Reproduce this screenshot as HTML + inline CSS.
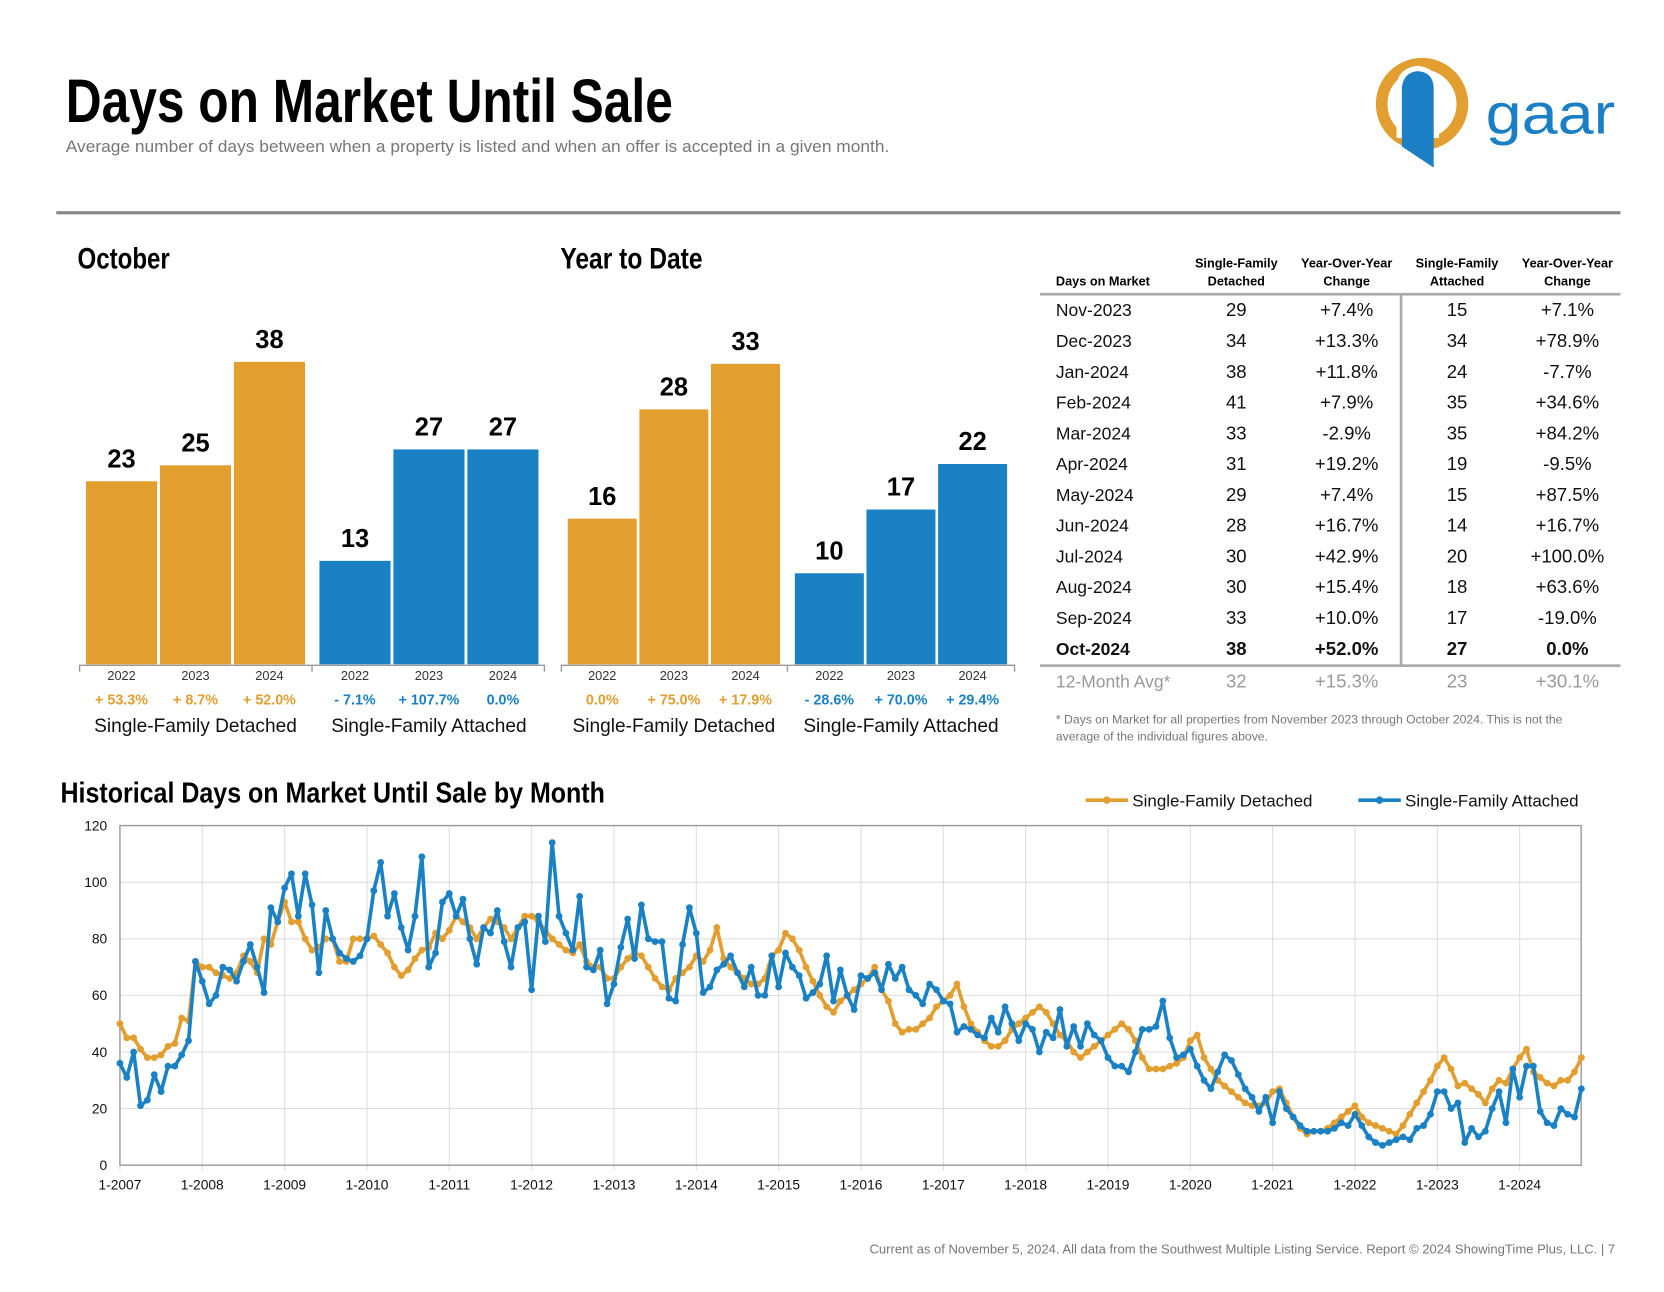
<!DOCTYPE html>
<html><head><meta charset="utf-8"><style>
html,body{margin:0;padding:0;background:#fff;width:1664px;height:1292px;overflow:hidden}
svg{display:block}
text{font-family:"Liberation Sans",sans-serif}
</style></head><body>
<svg id="page" width="1664" height="1292" viewBox="0 0 1568 1217.5" xmlns="http://www.w3.org/2000/svg">
<rect width="1568" height="1217.5" fill="#fff"/>
<text x="62" y="115" font-size="58" font-weight="bold" textLength="572" lengthAdjust="spacingAndGlyphs">Days on Market Until Sale</text>
<text x="62" y="143" font-size="15.5" fill="#777" textLength="776" lengthAdjust="spacingAndGlyphs">Average number of days between when a property is listed and when an offer is accepted in a given month.</text>
<g>
<circle cx="1340" cy="98" r="38" fill="none" stroke="#e29e2f" stroke-width="11"/>
<path d="M1316 80 Q1318 64 1336 62 Q1354 64 1356 80 L1356 130 L1316 130 Z" fill="#fff"/>
<path d="M1321 82 Q1323 68 1336 67 Q1350 68 1351 82 L1351 158 L1321 138 Z" fill="#1a7fc4"/>
<text x="1400" y="126" font-size="54" fill="#1a7fc4" font-family="'DejaVu Sans',sans-serif" textLength="122" lengthAdjust="spacingAndGlyphs">gaar</text>
</g>
<rect x="53" y="199" width="1474" height="3" fill="#888"/>
<text x="73" y="253" font-size="28" font-weight="bold" textLength="87" lengthAdjust="spacingAndGlyphs">October</text>
<text x="528" y="253" font-size="28" font-weight="bold" textLength="134" lengthAdjust="spacingAndGlyphs">Year to Date</text>
<g id="barcharts"></g>
<g id="table"></g>
<text x="57" y="756" font-size="27" font-weight="bold" textLength="513" lengthAdjust="spacingAndGlyphs">Historical Days on Market Until Sale by Month</text>
<g id="linechart"></g>
<text x="1522" y="1181" font-size="12.3" fill="#777" text-anchor="end">Current as of November 5, 2024. All data from the Southwest Multiple Listing Service. Report © 2024 ShowingTime Plus, LLC.  |  7</text>
</svg>
<script>
// ---- bar chart data ----
const barYears = ["2022","2023","2024"];
const octDetached = [23,25,38];
const octAttached = [13,27,27];
const octDetPct = ["+ 53.3%","+ 8.7%","+ 52.0%"];
const octAttPct = ["- 7.1%","+ 107.7%","0.0%"];
const ytdDetached = [16,28,33];
const ytdAttached = [10,17,22];
const ytdDetPct = ["0.0%","+ 75.0%","+ 17.9%"];
const ytdAttPct = ["- 28.6%","+ 70.0%","+ 29.4%"];
// ---- table data ----
const tblMonths = ["Nov-2023","Dec-2023","Jan-2024","Feb-2024","Mar-2024","Apr-2024","May-2024","Jun-2024","Jul-2024","Aug-2024","Sep-2024","Oct-2024"];
const tblDet = [29,34,38,41,33,31,29,28,30,30,33,38];
const tblDetChg = ["+7.4%","+13.3%","+11.8%","+7.9%","-2.9%","+19.2%","+7.4%","+16.7%","+42.9%","+15.4%","+10.0%","+52.0%"];
const tblAtt = [15,34,24,35,35,19,15,14,20,18,17,27];
const tblAttChg = ["+7.1%","+78.9%","-7.7%","+34.6%","+84.2%","-9.5%","+87.5%","+16.7%","+100.0%","+63.6%","-19.0%","0.0%"];
// ---- line chart data (monthly, Jan 2007 - Oct 2024) ----
const yTicks = [0,20,40,60,80,100,120];
const xTickLabels = ["1-2007","1-2008","1-2009","1-2010","1-2011","1-2012","1-2013","1-2014","1-2015","1-2016","1-2017","1-2018","1-2019","1-2020","1-2021","1-2022","1-2023","1-2024"];
const detachedSeries = [
50,45,45,41,38,38,39,42,43,52,51,72,
70,70,68,67,66,68,74,72,68,80,78,86,
93,86,86,80,76,77,80,80,72,72,80,80,
80,81,78,75,70,67,69,73,76,77,82,80,
83,88,86,84,80,84,87,86,84,80,84,88,
88,86,83,80,78,76,75,78,72,70,70,66,
66,70,73,75,74,70,66,63,62,66,68,70,
74,72,76,84,73,70,68,66,64,64,66,74,
76,82,80,76,70,65,60,56,54,58,60,62,
64,66,70,62,58,50,47,48,48,50,52,56,
58,60,64,56,50,47,44,42,42,44,48,50,
52,54,56,54,50,46,44,40,38,40,42,44,
46,48,50,48,44,38,34,34,34,35,36,38,
44,46,38,34,30,28,26,24,22,21,21,22,
26,27,22,17,13,11,12,12,13,15,17,19,
21,17,15,14,13,12,11,14,18,22,26,30,
35,38,34,28,29,27,25,22,27,30,29,34,
38,41,33,31,29,28,30,30,33,38];
const attachedSeries = [
36,31,40,21,23,32,26,35,35,39,44,72,
65,57,60,70,69,65,72,78,70,61,91,86,
98,103,88,103,92,68,90,80,75,73,72,74,
80,97,107,88,96,84,76,88,109,70,75,93,
96,88,94,80,71,84,82,90,79,70,84,86,
62,88,79,114,88,82,76,95,70,69,76,57,
64,77,87,73,92,80,79,79,59,58,78,91,
82,61,63,69,71,74,68,63,70,60,60,74,
63,75,70,67,59,61,64,74,58,69,60,55,
67,66,68,62,71,66,70,62,60,57,64,62,
58,57,47,49,48,46,45,52,47,56,50,44,
50,48,40,47,45,55,42,49,42,50,46,44,
38,35,35,33,40,48,48,49,58,45,38,39,
41,35,30,27,33,39,37,32,27,24,19,24,
15,26,20,17,14,12,12,12,12,13,15,14,
18,14,10,8,7,8,9,10,9,13,14,18,
26,26,20,22,8,13,10,12,20,26,15,34,
24,35,35,19,15,14,20,18,17,27];

const NS="http://www.w3.org/2000/svg";
const ORANGE="#e29e2f", BLUE="#1a82c4";
function mk(parent,tag,attrs,txt){const e=document.createElementNS(NS,tag);for(const k in attrs)e.setAttribute(k,attrs[k]);if(txt!==undefined)e.textContent=txt;parent.appendChild(e);return e;}

// ---- bar charts ----
const bc=document.getElementById('barcharts');
function barChart(name,x0,x1,mid,pxPerUnit,groups,barW,step){
  const base=626;
  const yScale=v=>base-v*pxPerUnit;
  groups.forEach((g,gi)=>{
    g.vals.forEach((v,i)=>{
      const x=g.start+i*step;
      const r=mk(bc,'rect',{x:x,y:yScale(v),width:barW,height:base-yScale(v),fill:g.color});
      
      
      const t=mk(bc,'text',{x:x+barW/2,y:yScale(v)-13,'font-size':24,'font-weight':'bold','text-anchor':'middle'},v);
      
      
      const yl=mk(bc,'text',{x:x+barW/2,y:641,'font-size':12,'text-anchor':'middle',fill:'#333'},barYears[i]);
      
      
      const pl=mk(bc,'text',{x:x+barW/2,y:664,'font-size':13.5,'font-weight':'bold','text-anchor':'middle',fill:g.color},g.pct[i]);
      
      
    });
    const gl=mk(bc,'text',{x:g.start+step+barW/2,y:690,'font-size':18,'text-anchor':'middle',fill:'#111'},g.label);
    
    
  });
  const ax=mk(bc,'path',{d:`M${x0} 633 V627 H${x1} V633 M${mid} 627 V633`,stroke:'#999','stroke-width':1.3,fill:'none'});
  
  
}
barChart('october',75,513,294,7.5,[
 {key:'detached',vals:octDetached,pct:octDetPct,color:ORANGE,start:81,label:'Single-Family Detached'},
 {key:'attached',vals:octAttached,pct:octAttPct,color:BLUE,start:301,label:'Single-Family Attached'}],67,69.7);
barChart('ytd',529,956,742,8.58,[
 {key:'detached',vals:ytdDetached,pct:ytdDetPct,color:ORANGE,start:535,label:'Single-Family Detached'},
 {key:'attached',vals:ytdAttached,pct:ytdAttPct,color:BLUE,start:749,label:'Single-Family Attached'}],65,67.5);

// ---- table ----
const tb=document.getElementById('table');
const cols=[1165,1269,1373,1477];
const heads=[["Single-Family","Detached"],["Year-Over-Year","Change"],["Single-Family","Attached"],["Year-Over-Year","Change"]];
heads.forEach((h,i)=>{
  const t1=mk(tb,'text',{x:cols[i],y:252,'font-size':12,'font-weight':'bold','text-anchor':'middle'},h[0]);
  
  
  const t2=mk(tb,'text',{x:cols[i],y:269,'font-size':12,'font-weight':'bold','text-anchor':'middle'},h[1]);
  
  
});
const th=mk(tb,'text',{x:995,y:269,'font-size':12,'font-weight':'bold'},'Days on Market');


mk(tb,'rect',{x:980,y:276,width:547,height:2.5,fill:'#aaa'});
mk(tb,'rect',{x:980,y:626,width:547,height:2.5,fill:'#aaa'});
mk(tb,'rect',{x:1319,y:277,width:2.5,height:350,fill:'#aaa'});
tblMonths.forEach((m,i)=>{
  const y=298+i*29, last=i===tblMonths.length-1;
  const fw=last?'bold':'normal';
  const row=[tblDet[i],tblDetChg[i],tblAtt[i],tblAttChg[i]];
  const l=mk(tb,'text',{x:995,y:y,'font-size':16.5,'font-weight':fw,fill:'#111'},m);
  
  
  row.forEach((v,c)=>{
    const t=mk(tb,'text',{x:cols[c],y:y,'font-size':17.5,'font-weight':fw,'text-anchor':'middle',fill:'#111'},v);
    
    
  });
});
const avg=["32","+15.3%","23","+30.1%"];
const al=mk(tb,'text',{x:995,y:648,'font-size':16.5,fill:'#999'},'12-Month Avg*');


avg.forEach((v,c)=>{
  const t=mk(tb,'text',{x:cols[c],y:648,'font-size':17.5,'text-anchor':'middle',fill:'#999'},v);
  
  
});
const f1=mk(tb,'text',{x:995,y:682,'font-size':11.5,fill:'#777'},'* Days on Market for all properties from November 2023 through October 2024. This is not the');


const f2=mk(tb,'text',{x:995,y:698,'font-size':11.5,fill:'#777'},'average of the individual figures above.');



// ---- line chart ----
const lc=document.getElementById('linechart');
const PX0=113, PX1=1490, PY0=1098, PY1=778, YMAX=120;
const monthPx=(1432-113)/(17*12);
const xS=i=>PX0+i*monthPx;
const yS=v=>PY0-(v/YMAX)*(PY0-PY1);
yTicks.forEach(t=>{
  const g=mk(lc,'line',{x1:PX0,x2:PX1,y1:yS(t),y2:yS(t),stroke:'#ddd','stroke-width':1});
  
  
  const l=mk(lc,'text',{x:101,y:yS(t)+4.5,'font-size':13,'text-anchor':'end',fill:'#111'},t);
  
  
});
xTickLabels.forEach((lab,k)=>{
  const x=xS(k*12);
  const g=mk(lc,'line',{x1:x,x2:x,y1:PY1,y2:PY0+5,stroke:'#ddd','stroke-width':1});
  
  
  const l=mk(lc,'text',{x:x,y:1121,'font-size':13,'text-anchor':'middle',fill:'#111'},lab);
  
  
});
const frame=mk(lc,'path',{d:`M${PX0} ${PY1} H${PX1} V${PY0} H${PX0} Z`,fill:'none',stroke:'#999','stroke-width':1.3});


function series(vals,color,name){
  const g=mk(lc,'g',{});
  
  
  const d=vals.map((v,i)=>(i?'L':'M')+xS(i).toFixed(2)+' '+yS(v).toFixed(2)).join(' ');
  const p=mk(g,'path',{d:d,fill:'none',stroke:color,'stroke-width':3.4,'stroke-linejoin':'round'});
  
  
  vals.forEach((v,i)=>{
    const c=mk(g,'circle',{cx:xS(i),cy:yS(v),r:3.2,fill:color});
    
    
  });
}
series(detachedSeries,ORANGE,'detached');
series(attachedSeries,BLUE,'attached');
// legend
[[1023,ORANGE,'Single-Family Detached','legend-detached'],[1280,BLUE,'Single-Family Attached','legend-attached']].forEach(([x,c,t,n])=>{
  const g=mk(lc,'g',{});
  
  
  mk(g,'line',{x1:x,x2:x+40,y1:754,y2:754,stroke:c,'stroke-width':3.4});
  mk(g,'circle',{cx:x+20,cy:754,r:3.5,fill:c});
  mk(g,'text',{x:x+44,y:760,'font-size':16,fill:'#111'},t);
});
</script>
</body></html>
